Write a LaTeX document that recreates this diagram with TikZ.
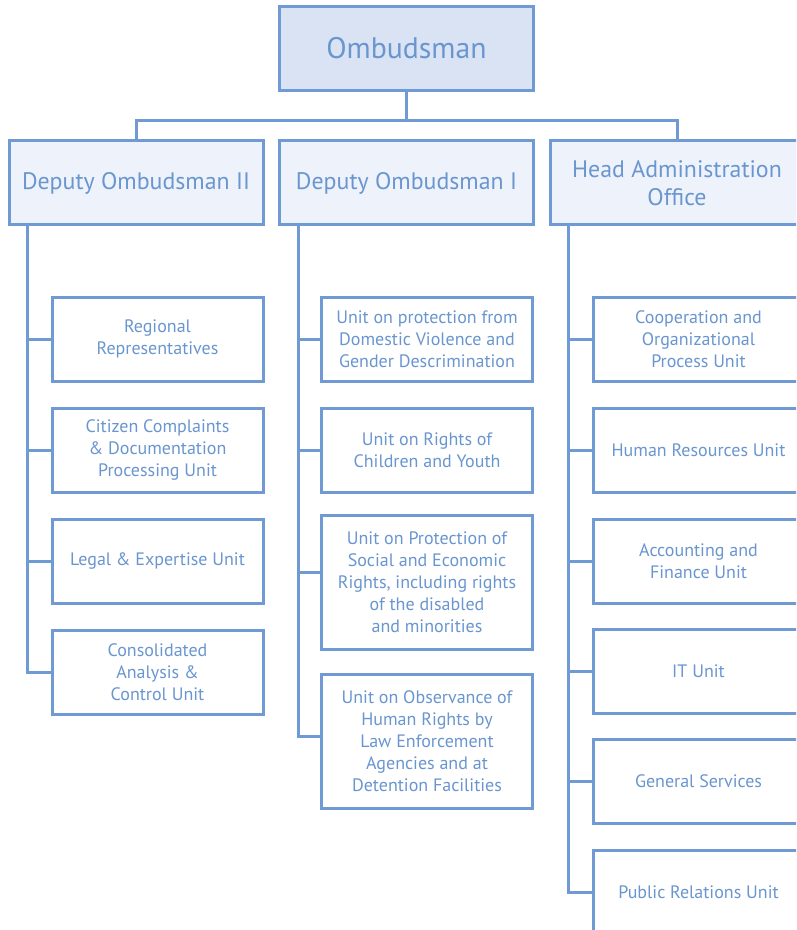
\documentclass[tikz,border=0pt]{standalone}
\usepackage{fontspec}
\setmainfont{PT Sans}
\usetikzlibrary{calc}
\definecolor{ln}{HTML}{6F9AD3}
\definecolor{tx}{HTML}{6A96D0}
\definecolor{topfill}{HTML}{DAE3F3}
\definecolor{depfill}{HTML}{EEF2FA}
\begin{document}
\begin{tikzpicture}[x=0.75pt,y=-0.75pt,
  base/.style={draw=ln, line width=2.25pt, text=tx, align=center, inner sep=0pt},
  topbox/.style={base, fill=topfill, minimum width=190.5pt, minimum height=63pt, font=\fontsize{22.3}{27}\selectfont},
  depbox/.style={base, fill=depfill, minimum width=190.5pt, minimum height=63pt, font=\fontsize{17.9}{21.5}\selectfont},
  unit/.style={base, fill=white, minimum width=158.25pt, minimum height=63pt, font=\fontsize{13.5}{16.5}\selectfont},
  tallunit/.style={unit, minimum height=100.5pt},
  conn/.style={draw=ln, line width=2.25pt, line join=miter}]
\useasboundingbox (0,0) rectangle (796,930);
\clip (0,0) rectangle (796,930);
% top
\node[topbox] (om) at (406.5,48.5) {Ombudsman};
% deputies
\node[depbox] (d2) at (136,183) {\raisebox{-2pt}{Deputy Ombudsman II}};
\node[depbox] (d1) at (406.5,183) {\raisebox{-2pt}{Deputy Ombudsman I}};
\node[depbox] (ha) at (677,183) {Head Administration\\Office};
% left column
\node[unit] (l1) at (157.5,339) {Regional\\Representatives};
\node[unit] (l2) at (157.5,450) {Citizen Complaints\\\& Documentation\\Processing Unit};
\node[unit] (l3) at (157.5,561) {Legal \& Expertise Unit};
\node[unit] (l4) at (157.5,672) {Consolidated\\Analysis \&\\Control Unit};
% middle column
\node[unit] (m1) at (427,339) {Unit on protection from\\Domestic Violence and\\Gender Descrimination};
\node[unit] (m2) at (427,450) {Unit on Rights of\\Children and Youth};
\node[tallunit] (m3) at (427,582) {Unit on Protection of\\Social and Economic\\Rights, including rights\\of the disabled\\and minorities};
\node[tallunit] (m4) at (427,741) {Unit on Observance of\\Human Rights by\\Law Enforcement\\Agencies and at\\Detention Facilities};
% right column
\node[unit] (r1) at (698.5,339) {Cooperation and\\Organizational\\Process Unit};
\node[unit] (r2) at (698.5,450) {Human Resources Unit};
\node[unit] (r3) at (698.5,561) {Accounting and\\Finance Unit};
\node[unit] (r4) at (698.5,671) {IT Unit};
\node[unit] (r5) at (698.5,781) {General Services};
\node[unit] (r6) at (698.5,892) {Public Relations Unit};
% top connectors
\coordinate (bus) at ($(om.south)+(0,29)$);
\draw[conn] (om.south) -- (bus);
\draw[conn] (bus) -| (d2.north);
\draw[conn] (bus) -| (ha.north);
% left column connectors
\coordinate (lv) at ($(d2.south west)+(20,0)$);
\foreach \n in {l1,l2,l3,l4} \draw[conn] (lv) |- (\n.west);
% middle column connectors
\coordinate (mv) at ($(d1.south west)+(20,0)$);
\draw[conn] (mv) |- (m1.west);
\draw[conn] (mv) |- (m2.west);
\draw[conn] (mv) |- ($(m3.west)+(0,-10)$);
\draw[conn] (mv) |- ($(m4.west)+(0,-5)$);
% right column connectors
\coordinate (rv) at ($(ha.south west)+(20,0)$);
\foreach \n in {r1,r2,r3,r4,r5,r6} \draw[conn] (rv) |- (\n.west);
\end{tikzpicture}
\end{document}
